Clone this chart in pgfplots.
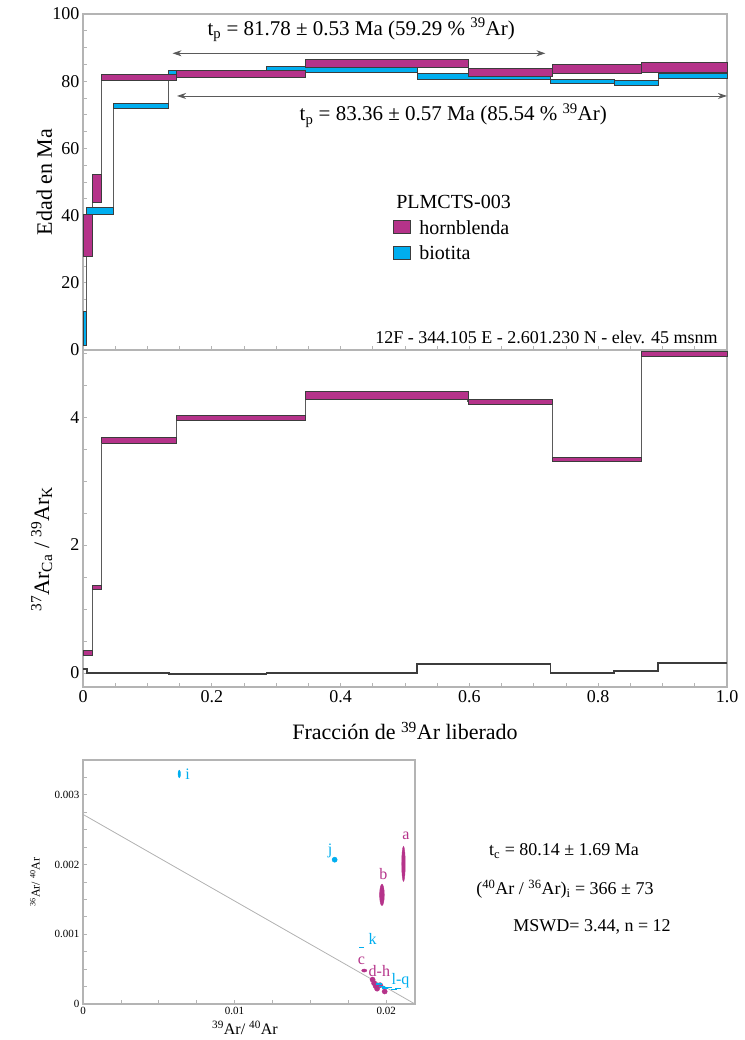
\documentclass[border=0pt]{standalone}
\usepackage{fontspec}
\setmainfont{Liberation Serif}
\usepackage{pgfplots}
\pgfplotsset{compat=1.18}
\usetikzlibrary{arrows.meta}
\definecolor{hbl}{HTML}{B5338A}
\definecolor{bio}{HTML}{00AEEF}
\definecolor{frame}{HTML}{B4B4B4}
\definecolor{edge}{HTML}{3C3C3C}
\definecolor{conn}{HTML}{5A5A5A}
% a step box: colour, x0, x1, low, high
\newcommand{\stepbox}[5]{\addplot[forget plot, fill=#1, draw=edge, line width=1pt, line join=miter] coordinates {(#2,#4) (#3,#4) (#3,#5) (#2,#5) (#2,#4)};}
\pgfplotsset{myaxis/.style={scale only axis, clip=false,
  axis line style={draw=frame, line width=1.1pt},
  tick style={draw=frame, line width=0.8pt}, tick align=inside,
  major tick length=4pt, minor tick length=4pt,
  ytick pos=left, xtick pos=bottom,
  tick label style={font=\fontsize{18}{20}\selectfont},
  label style={font=\fontsize{22}{24}\selectfont},
  /pgf/number format/assume math mode=true}}
\begin{document}
\begin{tikzpicture}
\path[use as bounding box] (0,0) rectangle (744pt,-1040pt);
% ---------------- top: age spectrum ----------------
\begin{axis}[myaxis, at={(83pt,-350pt)}, anchor=south west, width=644pt, height=336pt,
  xmin=0, xmax=1, ymin=0, ymax=100,
  ytick={0,20,40,60,80,100}, minor ytick={5,10,...,95},
  xtick={0,0.05,...,1.01}, xticklabels={},
  ylabel={Edad en Ma}, ylabel style={at={(axis description cs:-0.06,0.5)}, anchor=center},
  legend style={at={(rel axis cs:0.479,0.396)}, anchor=north west, draw=none, fill=none,
    font=\fontsize{20}{22}\selectfont, row sep=6pt, inner sep=1pt},
  legend cell align=left]
% connectors
\addplot[forget plot, const plot, conn, line width=1.2pt] coordinates {(0,6.4) (0.006,41.45) (0.047,72.6) (0.133,82.6) (0.285,83.45) (0.519,81.45) (0.726,79.85) (0.825,79.5) (0.893,81.55) (1.0,81.55)};
\addplot[forget plot, const plot, conn, line width=1.2pt] coordinates {(0,34) (0.0145,48.2) (0.029,81.15) (0.145,82.15) (0.345,85.3) (0.598,82.55) (0.729,83.7) (0.867,84.05) (1.0,84.05)};
% biotita
\stepbox{bio}{0}{0.006}{1.2}{11.6}
\stepbox{bio}{0.006}{0.047}{40.4}{42.5}
\stepbox{bio}{0.047}{0.133}{71.9}{73.3}
\stepbox{bio}{0.133}{0.285}{82.0}{83.2}
\stepbox{bio}{0.285}{0.519}{82.6}{84.3}
\stepbox{bio}{0.519}{0.726}{80.6}{82.3}
\stepbox{bio}{0.726}{0.825}{79.2}{80.5}
\stepbox{bio}{0.825}{0.893}{78.8}{80.2}
\stepbox{bio}{0.893}{1.0}{80.8}{82.3}
% hornblenda
\stepbox{hbl}{0}{0.0145}{27.7}{40.2}
\stepbox{hbl}{0.0145}{0.029}{44.0}{52.3}
\stepbox{hbl}{0.029}{0.145}{80.2}{82.1}
\stepbox{hbl}{0.145}{0.345}{81.2}{83.1}
\stepbox{hbl}{0.345}{0.598}{84.1}{86.5}
\stepbox{hbl}{0.598}{0.729}{81.3}{83.8}
\stepbox{hbl}{0.729}{0.867}{82.3}{85.1}
\stepbox{hbl}{0.867}{1.0}{82.6}{85.5}
\addlegendimage{legend image code/.code={\draw[fill=hbl,draw=edge,line width=1pt] (0pt,-6pt) rectangle (17pt,7pt); \path (24pt,0pt);}}
\addlegendentry{hornblenda}
\addlegendimage{legend image code/.code={\draw[fill=bio,draw=edge,line width=1pt] (0pt,-6pt) rectangle (17pt,7pt); \path (24pt,0pt);}}
\addlegendentry{biotita}
\node[anchor=west, font=\fontsize{20}{22}\selectfont] at (rel axis cs:0.481,0.44) {PLMCTS-003};
\draw[{Stealth[length=9pt,width=6pt]}-{Stealth[length=9pt,width=6pt]}, conn, line width=0.9pt] (axis cs:0.139,88.3) -- (axis cs:0.718,88.3);
\draw[{Stealth[length=9pt,width=6pt]}-{Stealth[length=9pt,width=6pt]}, conn, line width=0.9pt] (axis cs:0.146,75.6) -- (axis cs:1.0,75.6);
\node[font=\fontsize{21}{24}\selectfont] at (axis cs:0.432,95.3) {t\textsubscript{p} = 81.78 ± 0.53 Ma (59.29 \% \textsuperscript{39}Ar)};
\node[font=\fontsize{21}{24}\selectfont] at (axis cs:0.575,69.8) {t\textsubscript{p} = 83.36 ± 0.57 Ma (85.54 \% \textsuperscript{39}Ar)};
\node[anchor=east, font=\fontsize{18}{20}\selectfont] at (axis cs:0.991,3.9) {12F - 344.105 E - 2.601.230 N - elev. 45 msnm};
\end{axis}
% ---------------- middle: Ca/K ----------------
\begin{axis}[myaxis, at={(83pt,-687pt)}, anchor=south west, width=644pt, height=337pt,
  xmin=0, xmax=1, ymin=-0.22, ymax=5.05,
  ytick={0,2,4}, minor ytick={0.5,1,...,5},
  xtick={0,0.2,0.4,0.6,0.8,1.0}, xticklabels={0,0.2,0.4,0.6,0.8,1.0},
  minor xtick={0.05,0.1,...,0.96},
  xlabel={Fracción de \textsuperscript{39}Ar liberado},
  xlabel style={at={(axis description cs:0.5,-0.13)}, anchor=center},
  ylabel={\textsuperscript{37}Ar\textsubscript{Ca} / \textsuperscript{39}Ar\textsubscript{K}},
  ylabel style={at={(axis description cs:-0.064,0.41)}, anchor=center}]
\addplot[const plot, edge, line width=1.8pt] coordinates {(0,0.06) (0.006,0.005) (0.047,0.0) (0.133,-0.015) (0.285,-0.005) (0.519,0.135) (0.726,0.0) (0.825,0.03) (0.893,0.155) (1.0,0.155)};
\addplot[const plot, conn, line width=1.3pt] coordinates {(0,0.315) (0.0145,1.34) (0.029,3.635) (0.145,3.985) (0.345,4.34) (0.598,4.24) (0.729,3.335) (0.867,4.99) (1.0,4.99)};
\stepbox{hbl}{0}{0.0145}{0.28}{0.35}
\stepbox{hbl}{0.0145}{0.029}{1.31}{1.37}
\stepbox{hbl}{0.029}{0.145}{3.59}{3.68}
\stepbox{hbl}{0.145}{0.345}{3.94}{4.03}
\stepbox{hbl}{0.345}{0.598}{4.28}{4.40}
\stepbox{hbl}{0.598}{0.729}{4.20}{4.28}
\stepbox{hbl}{0.729}{0.867}{3.30}{3.37}
\stepbox{hbl}{0.867}{1.0}{4.95}{5.03}
\end{axis}
% ---------------- bottom: isochron ----------------
\begin{axis}[myaxis, at={(83pt,-1004pt)}, anchor=south west, width=332pt, height=244pt,
  xmin=0, xmax=0.0219, ymin=0, ymax=0.0035, scaled ticks=false,
  ytick={0,0.001,0.002,0.003}, yticklabels={0,0.001,0.002,0.003},
  minor ytick={0.00025,0.0005,...,0.0035},
  xtick={0,0.01,0.02}, xticklabels={0,0.01,0.02},
  minor xtick={0.0025,0.005,0.0075,0.0125,0.015,0.0175},
  tick label style={font=\fontsize{11}{13}\selectfont},
  xlabel={\textsuperscript{39}Ar/ \textsuperscript{40}Ar},
  xlabel style={font=\fontsize{16}{18}\selectfont, at={(axis description cs:0.488,-0.098)}, anchor=center},
  ylabel={\textsuperscript{36}Ar/ \textsuperscript{40}Ar},
  ylabel style={font=\fontsize{12}{14}\selectfont, at={(axis description cs:-0.145,0.5)}, anchor=center}]
\addplot[gray!60, line width=0.8pt] coordinates {(0,0.00272) (0.0219,0)};
\addplot[only marks, mark=*, bio, mark size=3.8pt, mark options={xscale=0.33}] coordinates {(0.00635,0.0033)};
\addplot[only marks, mark=*, bio, mark size=2.6pt] coordinates {(0.0166,0.00207)};
\addplot[only marks, mark=*, hbl, mark size=17.5pt, mark options={xscale=0.1}] coordinates {(0.02114,0.00201)};
\addplot[only marks, mark=*, hbl, mark size=10.7pt, mark options={xscale=0.22}] coordinates {(0.01972,0.001565)};
\addplot[only marks, mark=-, bio, mark size=2.5pt, mark options={line width=1.5pt}] coordinates {(0.01838,0.00081)};
\addplot[only marks, mark=*, hbl, mark size=2.6pt, mark options={yscale=0.6}] coordinates {(0.01855,0.00048)};
\addplot[only marks, mark=*, hbl, mark size=2.6pt] coordinates {(0.0191,0.00035) (0.0192,0.0003) (0.0193,0.00026) (0.0194,0.00022) (0.0196,0.00027) (0.0199,0.00018)};
\addplot[only marks, mark=-, bio, mark size=3pt, mark options={line width=1.5pt}] coordinates {(0.0195,0.00029) (0.0197,0.00025) (0.0199,0.00023) (0.0202,0.00024) (0.0205,0.00021) (0.0208,0.00022)};
\begin{scope}[font=\fontsize{16}{18}\selectfont]
\node[bio] at (axis cs:0.0069,0.0033) {i};
\node[bio] at (axis cs:0.0163,0.00219) {j};
\node[hbl] at (axis cs:0.0213,0.00241) {a};
\node[hbl] at (axis cs:0.01982,0.00187) {b};
\node[bio] at (axis cs:0.0191,0.00093) {k};
\node[hbl] at (axis cs:0.01837,0.00062) {c};
\node[hbl] at (axis cs:0.01955,0.00048) {d-h};
\node[bio] at (axis cs:0.02095,0.00034) {l-q};
\end{scope}
\end{axis}
\node[font=\fontsize{18}{20}\selectfont] at (564pt,-851pt) {t\textsubscript{c} = 80.14 ± 1.69 Ma};
\node[font=\fontsize{18}{20}\selectfont] at (565pt,-889pt) {(\textsuperscript{40}Ar / \textsuperscript{36}Ar)\textsubscript{i} = 366 ± 73};
\node[font=\fontsize{18}{20}\selectfont] at (592pt,-927pt) {MSWD= 3.44, n = 12};
\end{tikzpicture}
\end{document}
